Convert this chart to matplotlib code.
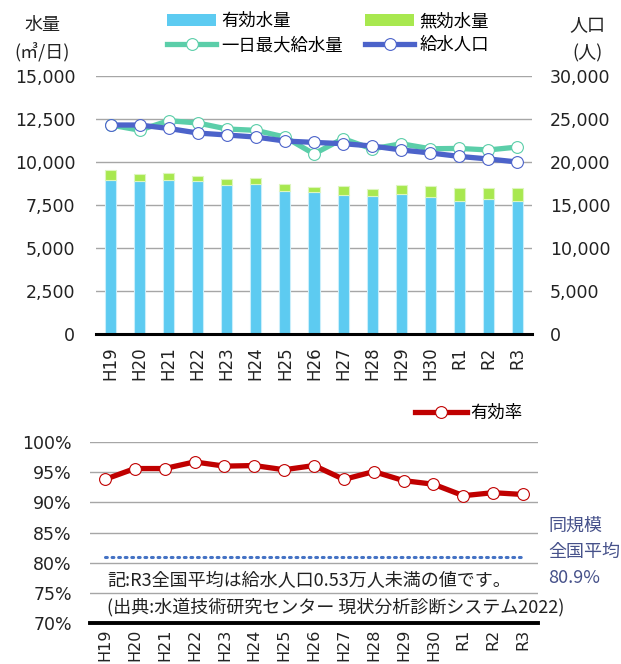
import matplotlib
matplotlib.use("Agg")
import matplotlib.pyplot as plt
from matplotlib.lines import Line2D
from matplotlib.patches import Patch
import numpy as np

JP = ['Noto Sans CJK JP', 'DejaVu Sans']
NUM = ['DejaVu Sans', 'Noto Sans CJK JP']
plt.rcParams['font.family'] = NUM

# ---------------- data ----------------
years = ['H19', 'H20', 'H21', 'H22', 'H23', 'H24', 'H25', 'H26', 'H27', 'H28',
         'H29', 'H30', 'R1', 'R2', 'R3']
effective_water = [8950, 8900, 8930, 8880, 8640, 8700, 8300, 8240, 8060, 8040,
                   8120, 7990, 7710, 7830, 7730]
ineffective_water = [600, 400, 430, 310, 370, 370, 420, 330, 540, 410,
                     560, 600, 780, 680, 760]
max_daily = [12150, 11850, 12400, 12270, 11920, 11840, 11450, 10470, 11360, 10760,
             11060, 10770, 10790, 10700, 10870]
population = [24300, 24300, 23900, 23370, 23140, 22900, 22440, 22280, 22130, 21860,
              21400, 21050, 20650, 20350, 20000]
efficiency = [93.8, 95.6, 95.6, 96.7, 96.0, 96.1, 95.4, 96.1, 93.8, 95.1,
              93.6, 93.0, 91.1, 91.6, 91.3]
national_avg = 80.9

left_ticks = [0, 2500, 5000, 7500, 10000, 12500, 15000]
right_ticks = [0, 5000, 10000, 15000, 20000, 25000, 30000]
pct_ticks = [70, 75, 80, 85, 90, 95, 100]

C_BLUE = '#5DCBF1'
C_GREEN = '#A8E84F'
C_MINT = '#5BCEA9'
C_POP = '#4C63CA'
C_RED = '#C00000'
C_NAVY = '#46518A'
C_GRID = '#A6A6A6'

W, H = 621, 664
fig = plt.figure(figsize=(W / 100, H / 100), dpi=100)

def fx(px):
    return px / W

def fy(py):
    return 1 - py / H

# ---------------- top chart ----------------
ax = fig.add_axes([fx(96), fy(334), fx(532) - fx(96), fy(76) - fy(334)])
x = np.arange(len(years))
bw = 0.38
ax.bar(x, effective_water, width=bw, color=C_BLUE, edgecolor='#C9EEFB', linewidth=0.8, zorder=2)
ax.bar(x, ineffective_water, width=bw, bottom=effective_water, color=C_GREEN,
       edgecolor='#DDF6BE', linewidth=0.8, zorder=2)
ax.plot(x, max_daily, color=C_MINT, lw=3.8, marker='o', ms=8.5, mfc='white',
        mec=C_MINT, mew=0.8, zorder=3)
ax.set_xlim(-0.5, len(years) - 0.5)
ax.set_ylim(0, 15000)
ax.set_yticks(left_ticks)
ax.set_yticklabels([f'{v:,}' for v in left_ticks])
ax.set_xticks(x)
ax.set_xticklabels(years, rotation=90)
ax.grid(axis='y', color=C_GRID, lw=1.0, zorder=0)
ax.set_axisbelow(True)
for s in ['top', 'right', 'left']:
    ax.spines[s].set_visible(False)
ax.spines['bottom'].set_color('black')
ax.spines['bottom'].set_linewidth(2.2)
ax.spines['bottom'].set_zorder(4)
ax.tick_params(axis='y', length=0, pad=15, labelsize=12.5, labelcolor='#222222')
ax.tick_params(axis='x', length=0, pad=9, labelsize=12, labelcolor='#222222')

ax2 = ax.twinx()
ax2.plot(x, population, color=C_POP, lw=3.8, marker='o', ms=8.5, mfc='white',
         mec=C_POP, mew=0.8, zorder=5)
ax2.set_ylim(0, 30000)
ax2.set_yticks(right_ticks)
ax2.set_yticklabels([f'{v:,}' for v in right_ticks])
for s in ['top', 'right', 'left', 'bottom']:
    ax2.spines[s].set_visible(False)
ax2.tick_params(axis='y', length=0, pad=13, labelsize=12.5, labelcolor='#222222')

fig.text(fx(42), fy(25), '水量', family=JP, fontsize=13, ha='center', va='center', color='#222222')
fig.text(fx(42), fy(53), '(㎥/日)', family=JP, fontsize=13, ha='center', va='center', color='#222222')
fig.text(fx(587), fy(25), '人口', family=JP, fontsize=13, ha='center', va='center', color='#222222')
fig.text(fx(587), fy(53), '(人)', family=JP, fontsize=13, ha='center', va='center', color='#222222')

handles = [
    Patch(facecolor=C_BLUE, edgecolor='none'),
    Line2D([], [], color=C_MINT, lw=3.8, marker='o', ms=8.5, mfc='white', mec=C_MINT, mew=0.8),
    Patch(facecolor=C_GREEN, edgecolor='none'),
    Line2D([], [], color=C_POP, lw=3.8, marker='o', ms=8.5, mfc='white', mec=C_POP, mew=0.8),
]
labels = ['有効水量', '一日最大給水量', '無効水量', '給水人口']
fig.legend(handles, labels, loc='upper left', bbox_to_anchor=(fx(167), fy(12)),
           ncol=2, frameon=False, borderpad=0, borderaxespad=0,
           handlelength=2.85, handletextpad=0.3, columnspacing=1.25,
           labelspacing=0.35, prop={'family': JP, 'size': 12.5})

# ---------------- bottom chart ----------------
bx = fig.add_axes([fx(90), fy(623), fx(538) - fx(90), fy(442) - fy(623)])
bx.plot(x, [national_avg] * len(years), color='#4472C4', lw=2.2,
        linestyle=(0, (0.6, 1.55)), dash_capstyle='round', zorder=2)
bx.plot(x, efficiency, color=C_RED, lw=3.8, marker='o', ms=8.5, mfc='white',
        mec=C_RED, mew=0.8, zorder=3, label='有効率')
bx.set_xlim(-0.5, len(years) - 0.5)
bx.set_ylim(70, 100)
bx.set_yticks(pct_ticks)
bx.set_yticklabels([f'{v}%' for v in pct_ticks])
bx.set_xticks(x)
bx.set_xticklabels(years, rotation=90)
bx.grid(axis='y', color=C_GRID, lw=1.0, zorder=0)
bx.set_axisbelow(True)
for s in ['top', 'right', 'left']:
    bx.spines[s].set_visible(False)
bx.spines['bottom'].set_color('black')
bx.spines['bottom'].set_linewidth(2.8)
bx.spines['bottom'].set_zorder(4)
bx.tick_params(axis='y', length=0, pad=13, labelsize=12.5, labelcolor='#222222')
bx.tick_params(axis='x', length=0, pad=4, labelsize=11.5, labelcolor='#222222')

fig.legend(loc='upper left', bbox_to_anchor=(fx(415), fy(404)), frameon=False,
           borderpad=0, borderaxespad=0, handlelength=3.0, handletextpad=0.2,
           prop={'family': JP, 'size': 12.5}, handles=[
               Line2D([], [], color=C_RED, lw=3.8, marker='o', ms=8.5, mfc='white', mec=C_RED, mew=0.8)],
           labels=['有効率'])

fig.text(fx(548), fy(526), '同規模', family=JP, fontsize=13, color=C_NAVY, ha='left', va='center')
fig.text(fx(548), fy(552), '全国平均', family=JP, fontsize=13, color=C_NAVY, ha='left', va='center')
fig.text(fx(548), fy(578), f'{national_avg}%', family=JP, fontsize=13, color=C_NAVY, ha='left', va='center')

fig.text(fx(107), fy(581), '記:R3全国平均は給水人口0.53万人未満の値です。', family=JP,
         fontsize=13, color='#222222', ha='left', va='center')
fig.text(fx(107), fy(607), '(出典:水道技術研究センター 現状分析診断システム2022)', family=JP,
         fontsize=13, color='#222222', ha='left', va='center')

fig.savefig('out.png', dpi=100)
